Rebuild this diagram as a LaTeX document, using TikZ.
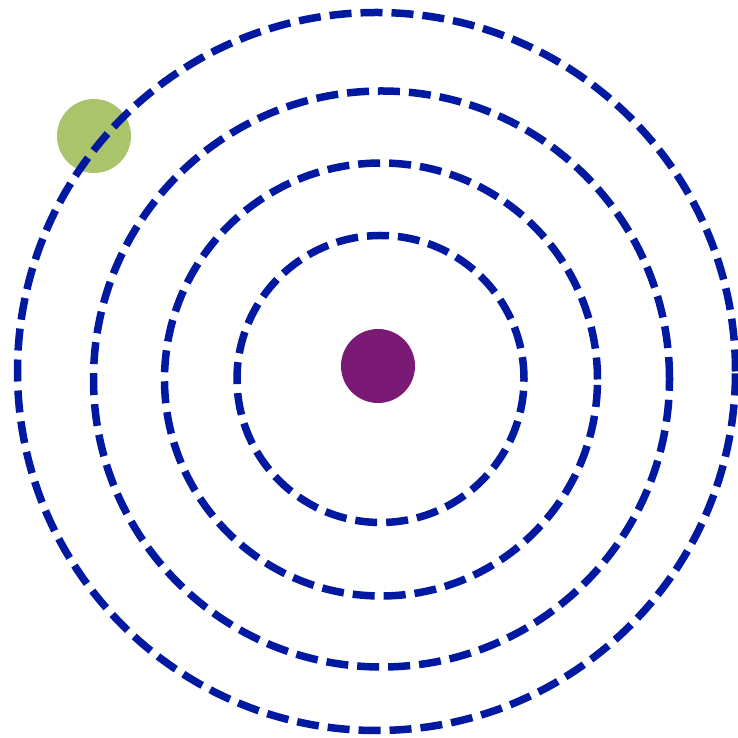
\documentclass[tikz,border=0pt]{standalone}
\begin{document}
\begin{tikzpicture}[x=1pt,y=1pt,
  orbit/.style={draw=orbitblue,line width=7.5pt,dash pattern=on 22pt off 9pt},
  dot/.style={circle,inner sep=0pt,minimum size=74pt,draw=none}]
\definecolor{orbitblue}{RGB}{0,25,160}
\definecolor{nucleus}{RGB}{122,26,117}
\definecolor{electron}{RGB}{170,196,108}
\useasboundingbox (0,0) rectangle (737,738);
\node[dot,fill=electron] (e) at (94,602) {};
\coordinate (c1) at (376.5,366.5);
\coordinate (c2) at (381.5,359);
\coordinate (c3) at (381,358.5);
\coordinate (c4) at (380.5,359);
\draw[orbit] (c1) circle (359);
\draw[orbit] (c2) circle (288);
\draw[orbit] (c3) circle (216.5);
\draw[orbit] (c4) circle (143.5);
\node[dot,fill=nucleus] (n) at (378,372) {};
\end{tikzpicture}
\end{document}
